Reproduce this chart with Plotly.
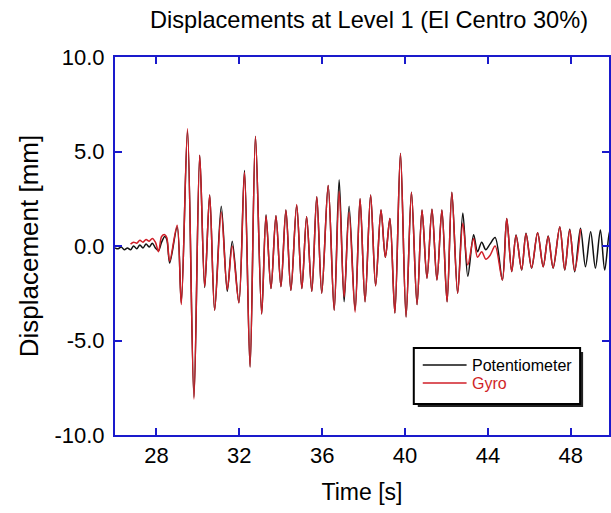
import plotly.graph_objects as go

# ---- data ----
time_s = [26.0, 26.15, 26.3, 26.45, 26.6, 26.75, 26.9, 27.05, 27.2, 27.35, 27.5, 27.65,
          27.8, 27.95, 28.1, 28.25, 28.4, 28.5,
          28.64, 29.0, 29.2, 29.5, 29.81, 30.09, 30.33, 30.57, 30.81, 31.13, 31.42, 31.66,
          31.98, 32.25, 32.52, 32.78, 33.08, 33.29, 33.53, 33.77, 34.01, 34.25, 34.49, 34.77,
          35.02, 35.25, 35.5, 35.74, 35.98, 36.29, 36.58, 36.82, 37.06, 37.3, 37.59, 37.83,
          38.07, 38.34, 38.58, 38.84, 39.05, 39.27, 39.51, 39.78, 40.05, 40.31, 40.58, 40.82,
          41.06, 41.3, 41.54, 41.78, 42.03, 42.26, 42.54, 42.79, 43.03, 43.31, 43.5, 43.7,
          43.9, 44.1, 44.35, 44.7, 44.91, 45.15, 45.36, 45.63, 45.84, 46.11, 46.4, 46.67,
          46.91, 47.15, 47.47, 47.71, 47.95, 48.19, 48.47, 48.71, 48.96, 49.19, 49.43, 49.64,
          49.88, 50.1]

potentiometer = [-0.1, -0.15, -0.05, -0.2, -0.1, -0.2, 0.0, -0.15, 0.05, -0.1, 0.1, -0.05,
                 0.15, -0.1, -0.25, 0.2, 0.5, 0.35,
                 -0.9, 1.0, -3.0, 6.1, -8.0, 4.8, -2.2, 2.7, -3.4, 2.1, -2.4, 0.25,
                 -3.0, 4.0, -6.4, 5.8, -3.6, 1.65, -2.25, 1.6, -2.15, 1.9, -2.35, 2.15,
                 -2.25, 1.55, -2.4, 2.6, -2.5, 3.2, -3.4, 3.5, -2.95, 2.1, -3.4, 2.5,
                 -2.95, 2.7, -2.1, 1.9, -0.6, 1.45, -3.55, 4.9, -3.75, 2.85, -3.1, 1.9,
                 -1.7, 1.95, -1.8, 1.9, -2.95, 2.85, -2.5, 1.75, -1.6, 0.6, -0.3, 0.2,
                 -0.2, 0.1, 0.45, -1.8, 1.45, -1.35, 0.58, -1.27, 0.67, -1.18, 0.7, -1.1,
                 0.53, -1.18, 1.0, -1.27, 0.88, -1.36, 0.94, -1.1, 0.76, -1.18, 0.85, -1.27,
                 0.8, -1.2]

gyro = [None, None, None, None, None, 0.1, 0.2, 0.15, 0.3, 0.2, 0.35, 0.25,
        0.4, 0.2, -0.3, 0.5, 0.6, 0.45,
        -0.8, 1.1, -3.1, 6.2, -8.1, 4.8, -2.15, 2.7, -3.4, 1.8, -2.3, 0.0,
        -3.0, 3.9, -6.4, 5.8, -3.6, 1.6, -2.25, 1.6, -2.15, 1.9, -2.35, 2.2,
        -2.25, 1.55, -2.4, 2.6, -2.5, 3.2, -3.4, 2.9, -2.7, 1.8, -3.5, 2.5,
        -2.95, 2.7, -2.1, 1.9, -0.6, 1.45, -3.55, 4.9, -3.75, 2.85, -3.1, 1.9,
        -1.7, 1.95, -1.8, 1.9, -2.95, 2.85, -2.5, 1.2, -1.0, 0.4, -0.6, -0.3,
        -0.7, -0.5, 0.0, -1.8, 1.45, -1.35, 0.55, -1.25, 0.65, -1.15, 0.7, -1.1,
        0.5, -1.15, 1.0, -1.25, 0.85, -1.3, 0.9, None, None, None, None, None,
        None, None]

series_names = ["Potentiometer", "Gyro"]
x_ticks = [28, 32, 36, 40, 44, 48]
y_ticks = [-10, -5, 0, 5, 10]
y_tick_labels = ["-10.0", "-5.0", "0.0", "5.0", "10.0"]

FONT = "Liberation Sans, Arial, Helvetica, sans-serif"
BLUE = "#1a1acc"
RED = "#d01f28"
BLACK = "#111111"

W, H = 611, 513
L, R, T, B = 115, 0, 57, 78
pw, ph = W - L - R, H - T - B


def px(xp):
    return (xp - L) / pw


def py(yp):
    return (H - B - yp) / ph


fig = go.Figure()
fig.add_trace(go.Scatter(x=time_s, y=potentiometer, mode="lines", name=series_names[0],
                         line=dict(color=BLACK, width=1.5, shape="spline", smoothing=0.9),
                         connectgaps=False, showlegend=False))
fig.add_trace(go.Scatter(x=time_s, y=gyro, mode="lines", name=series_names[1],
                         line=dict(color=RED, width=1.5, shape="spline", smoothing=0.9),
                         connectgaps=False, showlegend=False))

# ---- legend drawn as a box with a drop shadow ----
fig.add_shape(type="rect", xref="paper", yref="paper",
              x0=px(419), x1=px(585), y0=py(407), y1=py(352),
              fillcolor="#222222", line=dict(width=0), layer="above")
fig.add_shape(type="rect", xref="paper", yref="paper",
              x0=px(415), x1=px(582), y0=py(404), y1=py(348),
              fillcolor="white", line=dict(color="black", width=2), layer="above")
for i, (name, col, tcol) in enumerate(zip(series_names, [BLACK, RED], ["black", RED])):
    yy = 365 + i * 18
    fig.add_shape(type="line", xref="paper", yref="paper",
                  x0=px(424), x1=px(468), y0=py(yy), y1=py(yy),
                  line=dict(color=col, width=1.5), layer="above")
    fig.add_annotation(x=px(471), y=py(yy), xref="paper", yref="paper", text=name,
                       showarrow=False, xanchor="left", yanchor="middle",
                       font=dict(family=FONT, size=16, color=tcol))

fig.update_layout(
    width=W, height=H,
    margin=dict(l=L, r=R, t=T, b=B),
    paper_bgcolor="white", plot_bgcolor="white",
    font=dict(family=FONT, size=22, color="black"),
    title=dict(text="Displacements at Level 1 (El Centro 30%)", x=369 / W, xref="container",
               xanchor="center", y=1 - 20 / H, yanchor="middle", yref="container",
               font=dict(family=FONT, size=23.6, color="black")),
    showlegend=False,
    xaxis=dict(range=[26, 26 + pw / 20.8], tickvals=x_ticks, ticks="inside", ticklen=7,
               tickwidth=2, tickcolor=BLUE, showline=True, linecolor=BLUE, linewidth=2,
               mirror="ticks", showgrid=False, zeroline=False,
               title=dict(text="Time [s]", standoff=16, font=dict(size=23)),
               tickfont=dict(size=22)),
    yaxis=dict(range=[-10, 10], tickvals=y_ticks, ticktext=y_tick_labels, ticks="inside",
               ticklen=7, tickwidth=2, tickcolor=BLUE, showline=True, linecolor=BLUE,
               linewidth=2, mirror="ticks", showgrid=False, zeroline=False,
               title=dict(text="Displacement [mm]", standoff=8, font=dict(size=26)),
               tickfont=dict(size=22), ticklabelstandoff=4),
)

fig.write_html("out.html")
